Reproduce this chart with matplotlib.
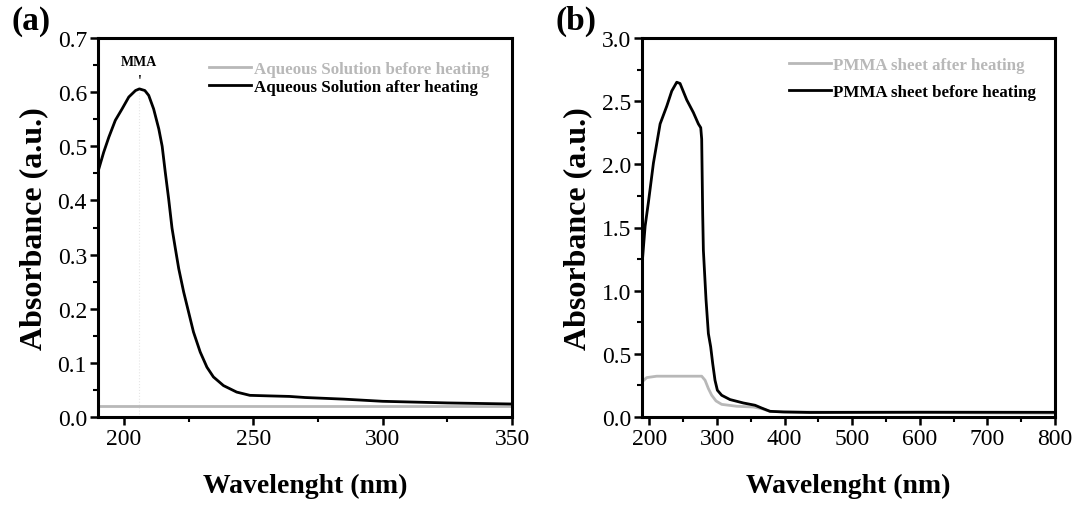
import numpy as np
import matplotlib.pyplot as plt
from matplotlib.ticker import MultipleLocator

plt.rcParams['font.family'] = ['Liberation Serif', 'DejaVu Serif']

# (a) водный раствор
wl_a_after = [190.3, 192.2, 194.2, 196.7, 199.3, 201.9, 204.5, 206, 208.1, 209.6, 211.5, 213.5, 214.8,
              216, 217.3, 218.6, 219.9, 221.2, 223.1, 225, 226.9, 229.5, 232.1, 234.6, 238.5,
              243.6, 248.7, 256, 264, 270, 285, 300, 325, 350]
abs_a_after = [0.458, 0.489, 0.517, 0.548, 0.569, 0.591, 0.603, 0.606, 0.603, 0.594, 0.569, 0.532, 0.50,
               0.452, 0.403, 0.349, 0.311, 0.274, 0.231, 0.194, 0.157, 0.12, 0.092, 0.074, 0.058,
               0.046, 0.040, 0.039, 0.038, 0.036, 0.033, 0.029, 0.026, 0.024]
wl_a_before = [190, 350]
abs_a_before = [0.0197, 0.0197]
mma_x = 206
mma_y = 0.606

# (b) лист ПММА
wl_b_before = [189, 193.6, 198.5, 205.9, 215.8, 225.6, 233, 240.4, 245.3, 255.2, 265, 272.4, 275.9,
               277.3, 278.8, 279.8, 283.7, 287.2, 290.6, 293.6, 297, 300.5, 306.9, 319.2, 338.9,
               356.2, 366, 378.3, 398, 437.4, 600, 800]
abs_b_before = [1.20, 1.51, 1.70, 2.01, 2.32, 2.46, 2.58, 2.65, 2.64, 2.51, 2.41, 2.32, 2.29,
                2.20, 1.60, 1.32, 0.93, 0.66, 0.556, 0.423, 0.291, 0.212, 0.172, 0.138, 0.111,
                0.093, 0.071, 0.045, 0.040, 0.036, 0.038, 0.037]
wl_b_after = [189, 196, 210.8, 277.3, 282.3, 287.2, 292.1, 298.5, 306.9, 329, 353.7, 366, 378.3,
              400, 500, 600, 700, 800]
abs_b_after = [0.278, 0.312, 0.323, 0.323, 0.291, 0.225, 0.172, 0.127, 0.10, 0.085, 0.079, 0.066, 0.045,
               0.040, 0.038, 0.036, 0.032, 0.030]

W, H = 1077, 506
fig = plt.figure(figsize=(W / 100, H / 100), dpi=100)
ax1 = fig.add_axes([98 / W, 1 - 418 / H, 414 / W, 379 / H])
ax2 = fig.add_axes([642 / W, 1 - 418 / H, 413 / W, 379 / H])

grey = '#b8b8b8'

ax1.axvline(mma_x, ymax=0.86, color='#e6e6e6', lw=0.8, ls=':')
ax1.plot(wl_a_before, abs_a_before, color=grey, lw=2.0, label='Aqueous Solution before heating')
ax1.plot(wl_a_after, abs_a_after, color='black', lw=2.0, label='Aqueous Solution after heating')
ax1.text(mma_x, 0.657, 'MMA', ha='center', va='center', fontsize=10, fontweight='bold')
ax1.text(mma_x, 0.622, "'", ha='center', va='center', fontsize=10, fontweight='bold')
ax1.set_xlim(190, 350)
ax1.set_ylim(0, 0.7)
ax1.xaxis.set_major_locator(MultipleLocator(50))
ax1.xaxis.set_minor_locator(MultipleLocator(25))
ax1.yaxis.set_major_locator(MultipleLocator(0.1))
ax1.yaxis.set_minor_locator(MultipleLocator(0.05))

ax2.plot(wl_b_after, abs_b_after, color=grey, lw=2.0, label='PMMA sheet after heating')
ax2.plot(wl_b_before, abs_b_before, color='black', lw=2.0, label='PMMA sheet before heating')
ax2.set_xlim(189, 800)
ax2.set_ylim(0, 3.0)
ax2.xaxis.set_major_locator(MultipleLocator(100))
ax2.xaxis.set_minor_locator(MultipleLocator(50))
ax2.yaxis.set_major_locator(MultipleLocator(0.5))
ax2.yaxis.set_minor_locator(MultipleLocator(0.25))

for ax, tag, lsp, pad in [(ax1, '(a)', 0.12, 0.95), (ax2, '(b)', 0.65, 0.7)]:
    for s in ax.spines.values():
        s.set_linewidth(2.2)
    ax.tick_params(which='major', direction='out', length=6, width=1.8, labelsize=17, pad=2)
    ax.tick_params(which='minor', direction='out', length=3.5, width=1.5)
    ax.set_xlabel('Wavelenght (nm)', fontsize=20, fontweight='bold', labelpad=17)
    ax.set_ylabel('Absorbance (a.u.)', fontsize=23, fontweight='bold', labelpad=7)
    ax.text(-0.21, 1.005, tag, transform=ax.transAxes, fontsize=24, fontweight='bold',
            ha='left', va='bottom')
    ax.legend(loc='upper right', frameon=False, labelcolor='linecolor',
              handlelength=2.5, handletextpad=0.15, borderaxespad=pad, labelspacing=lsp,
              prop={'weight': 'bold', 'size': 12.2})

fig.savefig('out.png', dpi=100)
